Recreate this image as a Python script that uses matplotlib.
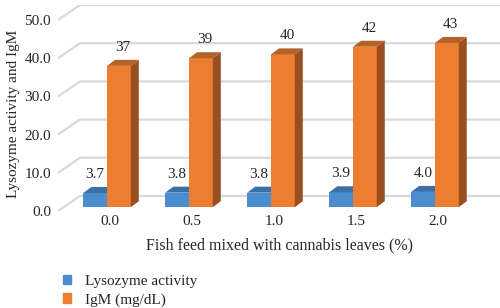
import numpy as np
import matplotlib
matplotlib.use('Agg')
import matplotlib.pyplot as plt
from matplotlib.patches import Polygon, Patch

# Data
categories = ['0.0', '0.5', '1.0', '1.5', '2.0']
lysozyme = [3.7, 3.8, 3.8, 3.9, 4.0]
igm = [37, 39, 40, 42, 43]
yticks = [0, 10, 20, 30, 40, 50]

plt.rcParams['font.family'] = ['Liberation Serif', 'DejaVu Serif']

W, H = 500, 308
fig = plt.figure(figsize=(W / 100, H / 100), dpi=100)
ax = fig.add_axes([58 / W, (H - 211) / H, 442 / W, 206 / H])
ax.set_xlim(-0.598, 4.793)
ax.set_ylim(0, 53.93)
for s in ax.spines.values():
    s.set_visible(False)

# depth of the wall (gridlines) and of the bars, in data units
wall_dx, wall_dy = 22 / 82, 15 / 3.82
bar_dx, bar_dy = 8 / 82, 6 / 3.82
base = 1.0          # bars sit a bit behind the front plane
bw = 0.29

grid_c = '#d9d9d9'
for v in yticks:
    ax.plot([-0.598, -0.598 + wall_dx, 4.793], [v, v + wall_dy, v + wall_dy],
            color=grid_c, lw=1.6, solid_capstyle='butt', zorder=1)

blue, blue_top = '#4a8ed0', '#3a6fa8'
orange, orange_top, orange_side = '#ed7d31', '#b5612a', '#9a4f21'
txt_c = '#262626'

x = np.arange(len(categories))


def draw_bar(x0, h, front, top, side):
    ax.bar(x0, h, width=bw, bottom=base, align='edge', color=front, lw=0, zorder=3)
    y1 = base + h
    ax.add_patch(Polygon([(x0, y1), (x0 + bar_dx, y1 + bar_dy),
                          (x0 + bw + bar_dx, y1 + bar_dy), (x0 + bw, y1)],
                         closed=True, color=top, lw=0, zorder=3))
    ax.add_patch(Polygon([(x0 + bw, base), (x0 + bw + bar_dx, base + bar_dy),
                          (x0 + bw + bar_dx, y1 + bar_dy), (x0 + bw, y1)],
                         closed=True, color=side, lw=0, zorder=3))


for i in x:
    draw_bar(i - bw, lysozyme[i], blue, blue_top, blue_top)
    draw_bar(i, igm[i], orange, orange_top, orange_side)
    ax.text(i - bw / 2, base + lysozyme[i] + bar_dy + 3.3,
            f'{lysozyme[i]:.1f}', ha='center', va='center', fontsize=11,
            color=txt_c, zorder=4)
    ax.text(i + bw / 2 + bar_dx / 2, base + igm[i] + bar_dy + 3.3,
            f'{igm[i]:d}', ha='center', va='center', fontsize=11,
            color=txt_c, zorder=4)

ax.set_yticks(yticks)
ax.set_yticklabels([f'{v:.1f}' for v in yticks])
ax.set_xticks(x + 0.04)
ax.set_xticklabels(categories)
ax.tick_params(length=0, labelsize=11, colors=txt_c)
ax.tick_params(axis='y', pad=5)
ax.tick_params(axis='x', pad=3)
ax.set_xlabel('Fish feed mixed with cannabis leaves (%)', fontsize=11.5, color=txt_c, labelpad=7)
ax.set_ylabel('Lysozyme activity and IgM', fontsize=11, color=txt_c)
ax.yaxis.set_label_coords(-0.086, 0.47)

handles = [Patch(color=blue, label='Lysozyme activity'),
           Patch(color=orange, label='IgM (mg/dL)')]
fig.legend(handles=handles, loc='upper left', bbox_to_anchor=(52 / W, 1 - 264 / H),
           frameon=False, fontsize=11, handlelength=0.55, handleheight=0.55,
           handletextpad=0.9, labelspacing=0.35, labelcolor=txt_c,
           borderpad=0.2)

fig.savefig('out.png', dpi=100)
